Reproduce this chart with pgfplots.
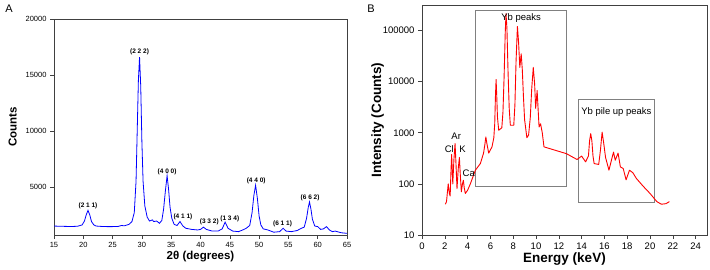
\documentclass[border=0pt]{standalone}
\usepackage{pgfplots}
\pgfplotsset{compat=1.18}
\usepackage{fontspec}
\setmainfont{Liberation Sans}
\begin{document}
\begin{tikzpicture}
\useasboundingbox (0,0) rectangle (710pt,270pt);
\node[font=\fontsize{11}{12}\selectfont] at (9pt,261pt) {A};
\node[font=\fontsize{11}{12}\selectfont] at (371pt,261pt) {B};
% Panel A
\begin{axis}[
  at={(54pt,35pt)}, anchor=south west,
  scale only axis, width=293pt, height=216pt,
  xmin=15, xmax=65, ymin=700, ymax=20000,
  xtick={15,20,...,65}, ytick={5000,10000,15000,20000},
  tick align=outside, tick pos=left, major tick length=4pt,
  axis line style={draw=black!75, line width=0.6pt},
  tick style={black!75, line width=0.6pt},
  /pgf/number format/assume math mode=true,
  scaled y ticks=false,
  yticklabel style={/pgf/number format/1000 sep={}},
  ticklabel style={font=\fontsize{7.5}{8}\selectfont},
  xlabel={\textbf{2θ (degrees)}}, ylabel={\textbf{Counts}},
  label style={font=\fontsize{11.5}{12}\selectfont},
  xlabel style={yshift=4pt}, ylabel style={yshift=2pt},
]
\addplot[blue, line width=0.8pt] coordinates {
(15,1500)(16,1480)(17,1470)(18,1460)(19,1480)(19.8,1600)(20.2,1950)(20.5,2500)(20.8,2900)(21.1,2500)(21.4,1900)(21.8,1600)(22.2,1500)(23,1470)(24,1450)(25,1450)(26,1470)(26.5,1550)(27,1520)(27.8,1650)(28.3,1900)(28.7,2700)(29.0,5500)(29.2,10000)(29.4,14500)(29.6,16600)(29.8,14000)(30.0,9000)(30.2,5500)(30.5,3300)(30.9,2300)(31.3,1950)(31.8,2050)(32.0,1900)(32.5,1950)(33.0,1750)(33.4,2000)(33.7,3000)(34.0,4600)(34.3,6000)(34.55,4800)(34.8,3200)(35.1,2200)(35.5,1650)(36.0,1550)(36.5,1900)(37.0,1500)(37.5,1300)(38.5,1200)(39.5,1150)(40.0,1200)(40.5,1400)(41.0,1200)(42,1050)(43,1050)(43.7,1250)(44.2,1850)(44.7,1300)(45.5,1050)(46.5,1000)(47.2,1150)(47.8,1300)(48.4,1550)(48.8,2700)(49.1,4200)(49.4,5150)(49.7,4000)(50.0,2400)(50.3,1600)(50.7,1250)(51.5,1150)(52.5,950)(53.5,1000)(54.1,1300)(54.6,1050)(55.5,1000)(56.5,1100)(57.2,1300)(57.7,1400)(58.1,2200)(58.4,3200)(58.6,3650)(58.85,3000)(59.1,2100)(59.5,1500)(60.0,1450)(60.5,1200)(61,1250)(61.5,1450)(62,1150)(62.5,1000)(63,1050)(64,900)(65,850)
};
\begin{scope}[every node/.style={font=\fontsize{6.5}{7}\selectfont\bfseries}]
\node at (axis cs:20.8,3300) {(2 1 1)};
\node at (axis cs:29.6,17050) {(2 2 2)};
\node at (axis cs:34.3,6320) {(4 0 0)};
\node at (axis cs:37.0,2310) {(4 1 1)};
\node at (axis cs:41.5,1860) {(3 3 2)};
\node at (axis cs:45.0,2170) {(1 3 4)};
\node at (axis cs:49.5,5510) {(4 4 0)};
\node at (axis cs:54.0,1720) {(6 1 1)};
\node at (axis cs:58.7,4050) {(6 6 2)};
\end{scope}
\end{axis}
% Panel B
\begin{axis}[
  at={(422pt,35pt)}, anchor=south west,
  scale only axis, width=285pt, height=230pt,
  ymode=log, log basis y=10,
  xmin=0, xmax=25, ymin=10, ymax=316000,
  xtick={0,2,...,24}, ytick={10,100,1000,10000,100000},
  yticklabels={10,100,1000,10000,100000},
  tick align=outside, tick pos=left, major tick length=4pt, minor tick length=2pt,
  axis line style={draw=black!75, line width=0.6pt},
  tick style={black!75, line width=0.6pt},
  /pgf/number format/assume math mode=true,
  ticklabel style={font=\fontsize{9.5}{10}\selectfont},
  xlabel={\textbf{Energy (keV)}}, ylabel={\textbf{Intensity (Counts)}},
  label style={font=\fontsize{13.5}{14}\selectfont},
  xlabel style={yshift=3pt}, ylabel style={yshift=-8pt},
]
\addplot[black!50, line width=0.6pt] coordinates {(4.65,91)(12.67,91)(12.67,245000)(4.65,245000)(4.65,91)};
\addplot[black!50, line width=0.6pt] coordinates {(13.7,43)(20.42,43)(20.42,4500)(13.7,4500)(13.7,43)};
\addplot[red, line width=0.9pt, line join=round] coordinates {
(2.05,40)(2.15,45)(2.3,100)(2.4,65)(2.47,58)(2.55,200)(2.6,375)(2.65,200)(2.7,100)(2.8,300)(2.9,615)(2.98,250)(3.07,81)(3.18,200)(3.28,330)(3.36,150)(3.45,70)(3.55,100)(3.63,118)(3.7,85)(3.8,65)(4.0,75)(4.24,100)(4.68,185)(5.12,250)(5.4,400)(5.52,600)(5.6,830)(5.7,600)(5.85,400)(6.14,530)(6.3,800)(6.38,1500)(6.44,5000)(6.5,11000)(6.56,5000)(6.62,2000)(6.73,1120)(7.0,1250)(7.1,2500)(7.2,12000)(7.3,90000)(7.37,215000)(7.45,110000)(7.55,15000)(7.65,3000)(7.75,1400)(8.05,1400)(8.15,3500)(8.25,25000)(8.37,120000)(8.47,60000)(8.58,19000)(8.7,35000)(8.8,17000)(8.9,5000)(9.0,1800)(9.2,800)(9.35,900)(9.5,2000)(9.62,7000)(9.76,19000)(9.88,9000)(9.97,3000)(10.1,6700)(10.2,2500)(10.27,1300)(10.4,1500)(10.55,1000)(10.7,530)(12.67,390)(13.6,300)(14.0,350)(14.35,270)(14.6,350)(14.7,700)(14.8,960)(14.9,700)(15.0,350)(15.1,250)(15.5,240)(15.65,450)(15.8,1030)(15.95,600)(16.1,330)(16.4,185)(16.6,280)(16.8,420)(16.95,290)(17.2,400)(17.4,215)(17.65,200)(17.9,120)(18.2,185)(18.5,165)(18.8,128)(19.4,90)(20.0,65)(20.6,45)(21.0,40)(21.4,41)(21.7,45)
};
\begin{scope}[every node/.style={font=\fontsize{9.5}{10}\selectfont}]
\node at (axis cs:8.7,175000) {Yb peaks};
\node at (axis cs:17.05,2600) {Yb pile up peaks};
\node at (axis cs:3.0,850) {Ar};
\node at (axis cs:2.4,470) {Cl};
\node at (axis cs:3.55,470) {K};
\node at (axis cs:4.1,163) {Ca};
\end{scope}
\end{axis}
\end{tikzpicture}
\end{document}
